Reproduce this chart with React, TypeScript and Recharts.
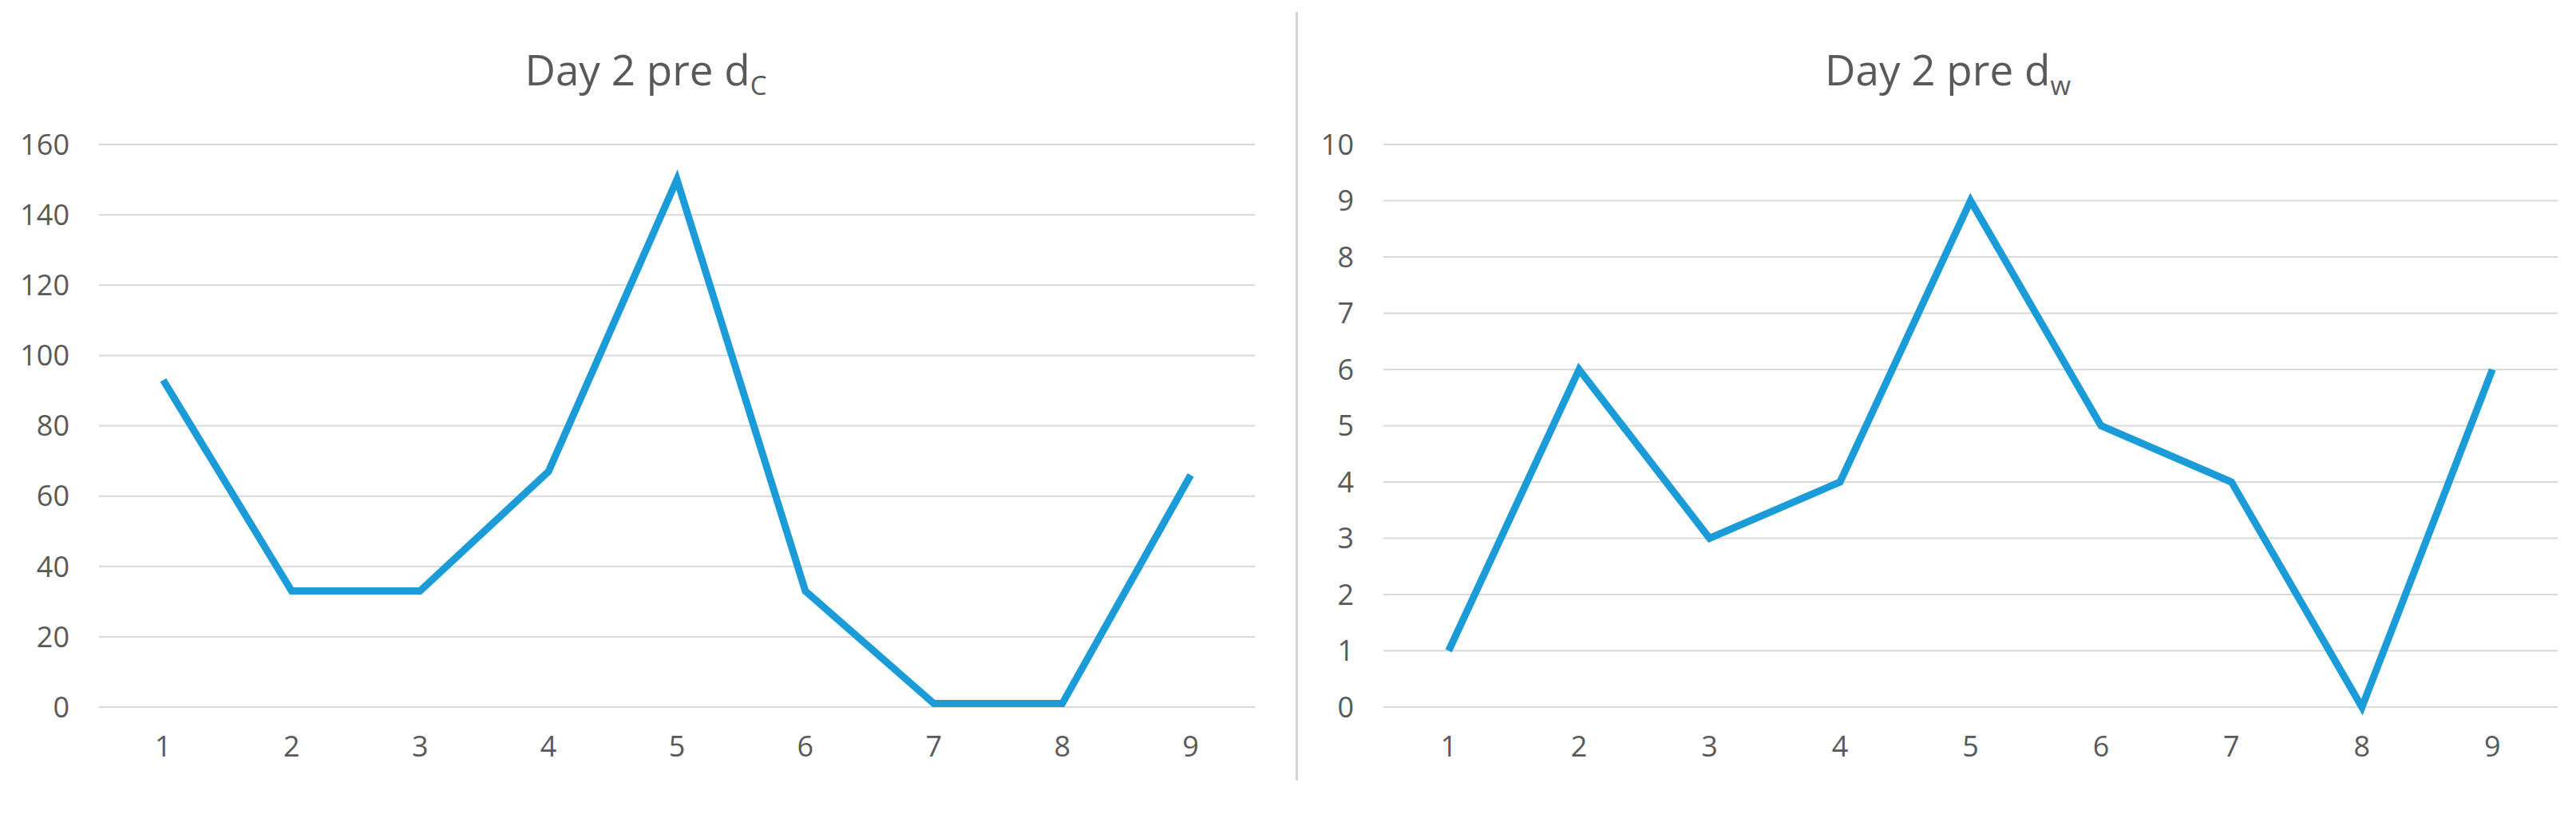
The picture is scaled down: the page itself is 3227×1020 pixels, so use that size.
import { LineChart, Line, XAxis, YAxis, CartesianGrid } from "recharts";

// values
const days = ["1", "2", "3", "4", "5", "6", "7", "8", "9"];
const dcValues = [93, 33, 33, 67, 150, 33, 1, 1, 66];
const dwValues = [1, 6, 3, 4, 9, 5, 4, 0, 6];
const dcTicks = [0, 20, 40, 60, 80, 100, 120, 140, 160];
const dwTicks = [0, 1, 2, 3, 4, 5, 6, 7, 8, 9, 10];

const FONT = "'Open Sans', 'Noto Sans', sans-serif";
const TEXT = "#595959";
const GRID = "#d9d9d9";
const BLUE = "#1b9cd8";

const dcData = days.map((d, i) => ({ day: d, value: dcValues[i] }));
const dwData = days.map((d, i) => ({ day: d, value: dwValues[i] }));

function Title({ center, sub }: { center: number; sub: string }) {
  return (
    <div
      style={{
        position: "absolute",
        left: center - 400,
        top: 60,
        width: 800,
        textAlign: "center",
        fontFamily: FONT,
        fontSize: 53,
        lineHeight: "53px",
        color: TEXT,
        whiteSpace: "nowrap",
      }}
    >
      Day 2 pre d
      <span style={{ fontSize: 33, verticalAlign: "-12px" }}>{sub}</span>
    </div>
  );
}

function Panel({
  data,
  ticks,
  max,
  width,
  yWidth,
  right,
  pad,
}: {
  data: { day: string; value: number }[];
  ticks: number[];
  max: number;
  width: number;
  yWidth: number;
  right: number;
  pad: number;
}) {
  return (
    <LineChart
      width={width}
      height={1020}
      data={data}
      margin={{ top: 181, right, bottom: 0, left: 0 }}
    >
      <CartesianGrid vertical={false} stroke={GRID} strokeWidth={2} />
      <XAxis
        dataKey="day"
        axisLine={false}
        tickLine={false}
        tickSize={0}
        tickMargin={36}
        height={134}
        padding={{ left: pad, right: pad }}
        tick={{ fill: TEXT, fontSize: 36, fontFamily: FONT }}
        interval={0}
      />
      <YAxis
        domain={[0, max]}
        ticks={ticks}
        interval={0}
        axisLine={false}
        tickLine={false}
        tickSize={0}
        tickMargin={37}
        width={yWidth}
        tick={{ fill: TEXT, fontSize: 36, fontFamily: FONT }}
      />
      <Line
        type="linear"
        dataKey="value"
        stroke={BLUE}
        strokeWidth={9}
        strokeLinejoin="miter"
        dot={false}
        activeDot={false}
        isAnimationActive={false}
      />
    </LineChart>
  );
}

export default function App() {
  return (
    <div
      style={{
        position: "absolute",
        left: 0,
        top: 0,
        width: 3227,
        height: 1020,
        background: "#fff",
        overflow: "hidden",
      }}
    >
      <div style={{ position: "absolute", left: 0, top: 0 }}>
        <Panel data={dcData} ticks={dcTicks} max={160} width={1624} yWidth={124} right={52} pad={80.4} />
      </div>
      <div style={{ position: "absolute", left: 1626, top: 0 }}>
        <Panel data={dwData} ticks={dwTicks} max={10} width={1601} yWidth={107} right={23} pad={81.7} />
      </div>
      <div
        style={{
          position: "absolute",
          left: 1623,
          top: 15,
          width: 3,
          height: 963,
          background: "#d4d4d4",
        }}
      />
      <Title center={809} sub="C" />
      <Title center={2440} sub="w" />
    </div>
  );
}
